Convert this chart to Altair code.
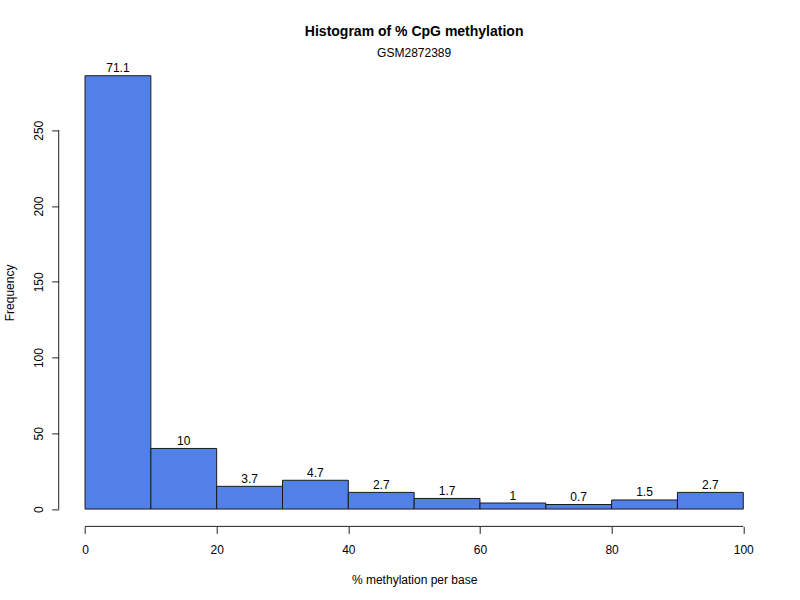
import altair as alt
import pandas as pd

bin_start = [0, 10, 20, 30, 40, 50, 60, 70, 80, 90]
bin_end = [10, 20, 30, 40, 50, 60, 70, 80, 90, 100]
counts = [286, 40, 15, 19, 11, 7, 4, 3, 6, 11]
pct_labels = ["71.1", "10", "3.7", "4.7", "2.7", "1.7", "1", "0.7", "1.5", "2.7"]
x_ticks = [0, 20, 40, 60, 80, 100]
y_ticks = [0, 50, 100, 150, 200, 250]

FONT = "Liberation Sans"
W, H = 710.9, 468
AX = "#222222"

df = pd.DataFrame({
    "start": bin_start,
    "end": bin_end,
    "count": counts,
    "label": pct_labels,
    "mid": [(a + b) / 2 for a, b in zip(bin_start, bin_end)],
})

xr = bin_end[-1] - bin_start[0]
yr = max(counts)
xs = alt.Scale(domain=[bin_start[0] - 0.04 * xr, bin_end[-1] + 0.04 * xr], nice=False, zero=False)
ys = alt.Scale(domain=[-0.04 * yr, yr * 1.04], nice=False, zero=False)

x_axis = alt.Axis(
    values=x_ticks, domain=False, grid=False, tickColor=AX, tickSize=7, tickWidth=1,
    labelFont=FONT, labelFontSize=12, labelColor="#000", labelPadding=20,
    labelBaseline="alphabetic", labelFlush=False, labelOverlap=False,
    title="% methylation per base", titleFont=FONT, titleFontSize=12,
    titleFontWeight="normal", titleColor="#000", titleX=W / 2, titleY=56.6,
    titleBaseline="alphabetic", titleAlign="center",
)
y_axis = alt.Axis(
    values=y_ticks, domain=False, grid=False, tickColor=AX, tickSize=7, tickWidth=1,
    labelFont=FONT, labelFontSize=12, labelColor="#000", labelPadding=9,
    labelAngle=270, labelAlign="center", labelBaseline="alphabetic",
    labelFlush=False, labelOverlap=False,
    title="Frequency", titleFont=FONT, titleFontSize=12, titleFontWeight="normal",
    titleColor="#000", titleAngle=270, titleX=-45.4, titleY=H / 2,
    titleAlign="center", titleBaseline="alphabetic",
)

bars = alt.Chart(df).mark_rect(fill="#5280E9", stroke="#1a1a1a", strokeWidth=1).encode(
    x=alt.X("start:Q", scale=xs, axis=x_axis),
    x2="end:Q",
    y=alt.Y("count:Q", scale=ys, axis=y_axis),
    y2=alt.datum(0),
)

labels = alt.Chart(df).mark_text(
    font=FONT, fontSize=12, color="#000", baseline="alphabetic", align="center", dy=-3.5
).encode(
    x=alt.X("mid:Q", scale=xs, axis=x_axis),
    y=alt.Y("count:Q", scale=ys, axis=y_axis),
    text="label:N",
)

yline = alt.Chart(pd.DataFrame({"a": [y_ticks[0]], "b": [y_ticks[-1]]})).mark_rule(
    color=AX, strokeWidth=1
).encode(
    x=alt.value(0),
    y=alt.Y("a:Q", scale=ys, axis=y_axis),
    y2="b:Q",
)

xline = alt.Chart(pd.DataFrame({"a": [x_ticks[0]], "b": [x_ticks[-1]]})).mark_rule(
    color=AX, strokeWidth=1
).encode(
    y=alt.value(H),
    x=alt.X("a:Q", scale=xs, axis=x_axis),
    x2="b:Q",
)

chart = alt.layer(bars, labels, yline, xline).properties(
    width=W,
    height=H,
    autosize=alt.AutoSizeParams(type="none"),
    padding={"left": 58.7, "top": 58.4, "right": 30.4, "bottom": 73.6},
    background="white",
    title=alt.TitleParams(
        "Histogram of % CpG methylation",
        subtitle="GSM2872389",
        font=FONT, fontSize=14, fontWeight="bold", color="#000",
        subtitleFont=FONT, subtitleFontSize=12, subtitleColor="#000",
        anchor="middle", offset=-1, subtitlePadding=9.5,
    ),
).configure_view(stroke=None)

chart.save("out.html", embed_options={"renderer": "svg", "actions": False})
